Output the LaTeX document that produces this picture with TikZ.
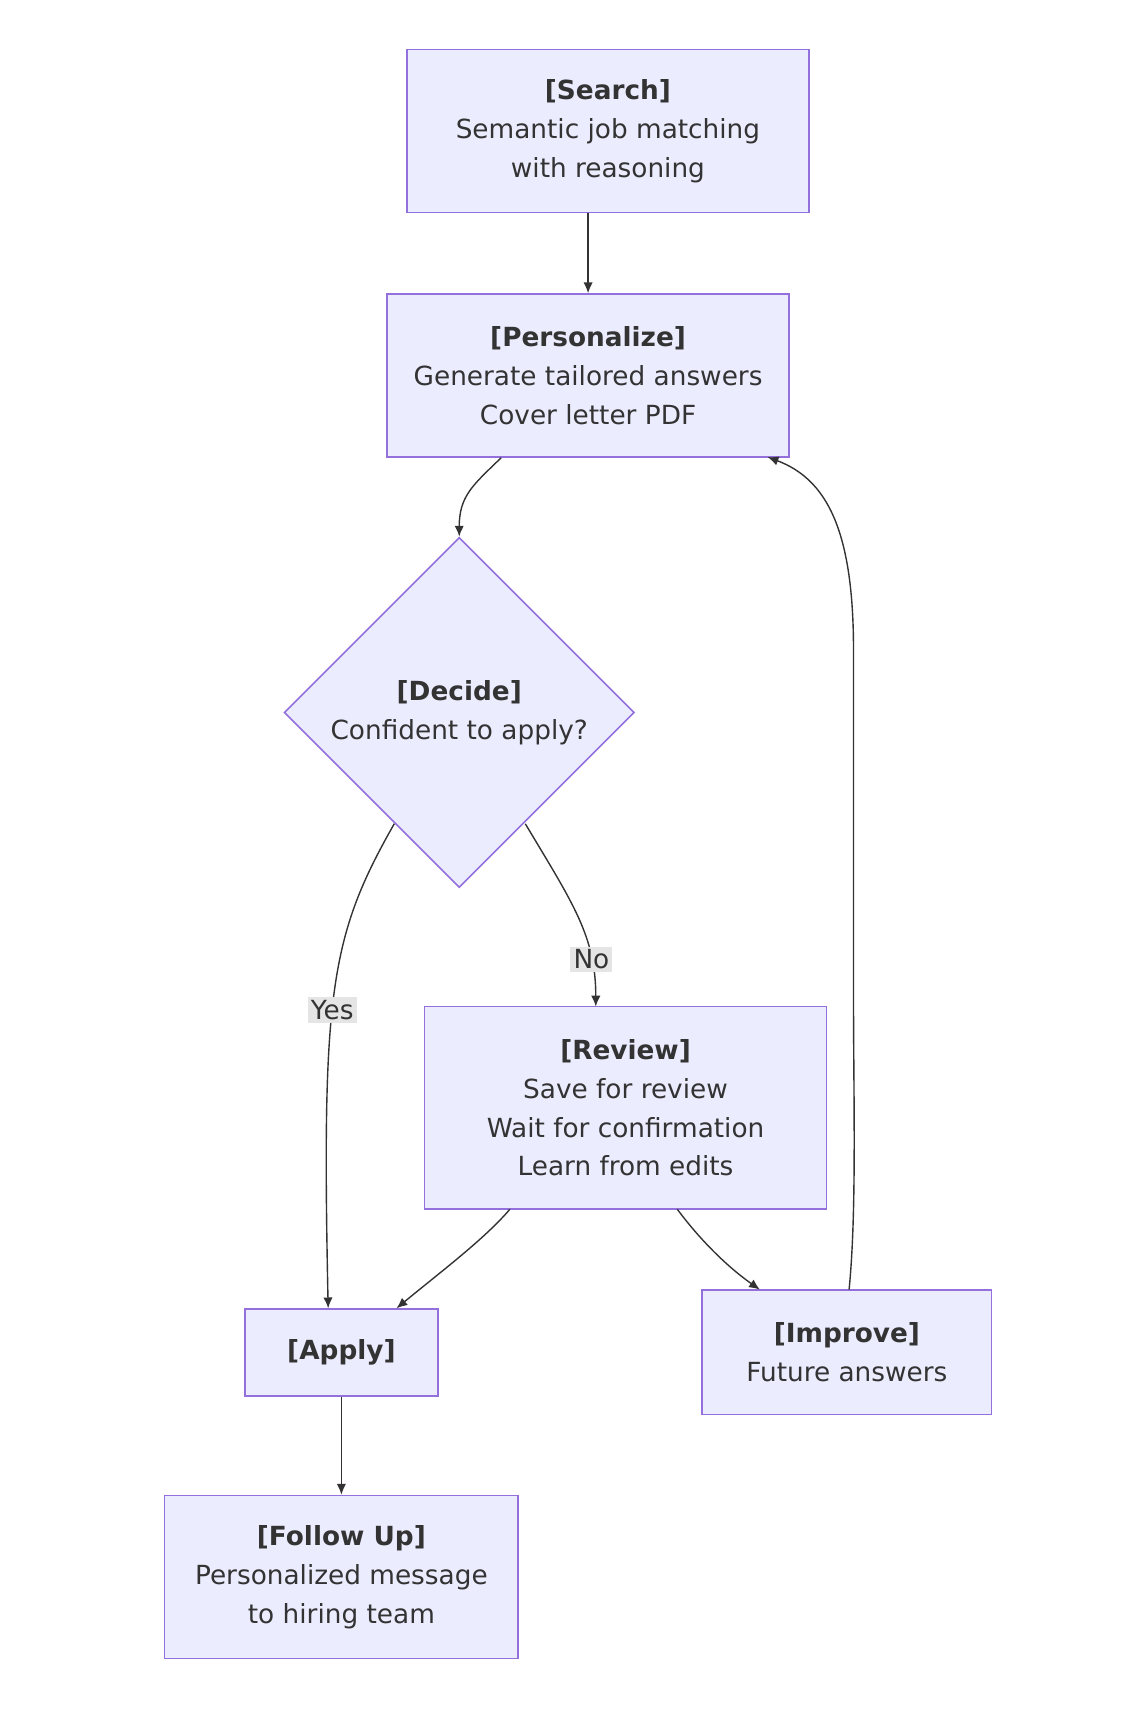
\documentclass[tikz,border=0pt]{standalone}
\usepackage{fontspec}
\setmainfont{DejaVu Sans}
\usetikzlibrary{shapes.geometric,arrows.meta}
\definecolor{boxfill}{HTML}{ECECFF}
\definecolor{boxline}{HTML}{9370DB}
\definecolor{edgecol}{HTML}{333333}
\tikzset{
  stage/.style={draw=boxline,fill=boxfill,line width=1pt,align=center,inner sep=0pt,
    font=\fontsize{17}{25}\selectfont,text=edgecol},
  choice/.style={stage,diamond,minimum width=318*0.025cm,minimum height=318*0.025cm},
  flow/.style={-{Latex[length=7pt,width=6pt]},draw=edgecol,line width=0.9pt},
  tag/.style={fill=gray!20,inner sep=2pt,font=\fontsize{17}{20}\selectfont,text=edgecol}
}
\begin{document}
\begin{tikzpicture}[x=0.025cm,y=-0.025cm]
  \useasboundingbox (0,0) rectangle (1040,1560);
  \node[stage,minimum width=365*0.025cm,minimum height=148*0.025cm] (search) at (552,119) {\textbf{[Search]}\\Semantic job matching\\with reasoning};
  \node[stage,minimum width=365*0.025cm,minimum height=148*0.025cm] (pers) at (534,341) {\textbf{[Personalize]}\\Generate tailored answers\\Cover letter PDF};
  \node[choice] (decide) at (417,647) {\textbf{[Decide]}\\Confident to apply?};
  \node[stage,minimum width=365*0.025cm,minimum height=184*0.025cm] (review) at (568,1006) {\textbf{[Review]}\\Save for review\\Wait for confirmation\\Learn from edits};
  \node[stage,minimum width=175*0.025cm,minimum height=79*0.025cm] (apply) at (310,1228) {\textbf{[Apply]}};
  \node[stage,minimum width=263*0.025cm,minimum height=113*0.025cm] (improve) at (769,1228) {\textbf{[Improve]}\\Future answers};
  \node[stage,minimum width=321*0.025cm,minimum height=148*0.025cm] (follow) at (310,1432) {\textbf{[Follow Up]}\\Personalized message\\to hiring team};
  % connectors
  \draw[flow] (search.south -| pers.north) -- (pers.north);
  \draw[flow] ([xshift=-79*0.025cm]pers.south) .. controls (430,440) and (417,450) .. (decide.north);
  \draw[flow] (358,748) .. controls (300,850) and (292,900) .. node[tag,pos=0.55] {Yes} (298,1188);
  \draw[flow] (477,748) .. controls (520,820) and (541,850) .. node[tag,pos=0.75] {No} (541,914);
  \draw[flow] (463,1098) .. controls (440,1125) and (400,1155) .. (360,1188);
  \draw[flow] (615,1098) .. controls (635,1125) and (660,1150) .. (690,1171);
  \draw[flow] (771,1171) .. controls (778,1100) and (775,1000) .. (775,900) -- (775,590) .. controls (775,480) and (750,435) .. (697,415);
  \draw[flow] (apply) -- (follow);
\end{tikzpicture}
\end{document}
